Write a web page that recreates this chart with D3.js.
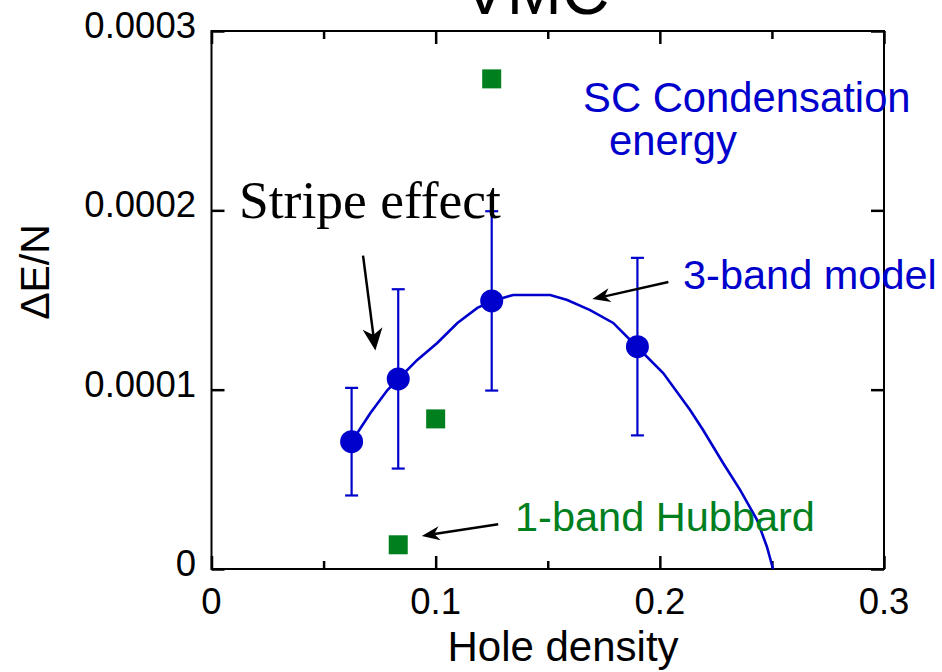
<!DOCTYPE html>
<html><head><meta charset="utf-8">
<script src="https://cdn.jsdelivr.net/npm/d3@7"></script>
<style>html,body{margin:0;padding:0;background:#fff;}svg{display:block;}</style>
</head><body>
<svg id="c" width="942" height="672"></svg>
<script>
// ---- data ----
const xTicks = [0, 0.1, 0.2, 0.3];
const xMinorTicks = [0.05, 0.15, 0.25];
const yTicks = [0, 0.0001, 0.0002, 0.0003];
const yTickLabels = ["0", "0.0001", "0.0002", "0.0003"];
const xTickLabels = ["0", "0.1", "0.2", "0.3"];

// 3-band model VMC points (hole density, ΔE/N, error)
const bandX = [0.0625, 0.0833, 0.125, 0.19];
const bandY = [0.0000710, 0.0001060, 0.0001495, 0.0001240];
const bandErr = [0.0000300, 0.0000500, 0.0000500, 0.0000495];

// 1-band Hubbard points
const hubX = [0.0833, 0.1, 0.125];
const hubY = [0.0000135, 0.0000837, 0.0002733];

// fitted curve
const curveX = [0.0624,0.0709,0.0785,0.0834,0.0918,0.1007,0.1097,0.1186,0.1253,0.1346,0.1511,0.1587,0.1689,0.1792,0.1899,0.2015,0.2135,0.2193,0.2282,0.2358,0.2434,0.2478,0.2505];
const curveY = [0.708,0.870,0.998,1.060,1.166,1.260,1.372,1.456,1.495,1.528,1.528,1.500,1.444,1.372,1.238,1.093,0.887,0.775,0.591,0.441,0.273,0.123,0.000].map(v => v * 1e-4);

// ---- layout ----
const svg = d3.select("#c");
const x = d3.scaleLinear().domain([0, 0.3]).range([211.5, 884]);
const y = d3.scaleLinear().domain([0, 0.0003]).range([569, 31]);
const BLUE = "#0000cc", GREEN = "#007f1f";
const SANS = "'Liberation Sans', Arial, Helvetica, sans-serif";

// title (cut at top, as in the reference)
svg.append("text").attr("x", 536).attr("y", 14).attr("text-anchor", "middle")
  .attr("font-family", SANS).attr("font-size", 66).attr("fill", "#000").text("VMC");

// frame
svg.append("rect").attr("x", x(0)).attr("y", y(0.0003)).attr("width", x(0.3) - x(0)).attr("height", y(0) - y(0.0003))
  .attr("fill", "none").attr("stroke", "#000").attr("stroke-width", 2);

// axes with inward ticks
const axB = d3.axisBottom(x).tickValues(xTicks).tickSize(-13).tickFormat("");
const axT = d3.axisTop(x).tickValues(xTicks).tickSize(-13).tickFormat("");
const axBm = d3.axisBottom(x).tickValues(xMinorTicks).tickSize(-8).tickFormat("");
const axTm = d3.axisTop(x).tickValues(xMinorTicks).tickSize(-8).tickFormat("");
const axL = d3.axisLeft(y).tickValues(yTicks).tickSize(-13).tickFormat("");
const axR = d3.axisRight(y).tickValues(yTicks).tickSize(-13).tickFormat("");
function styleAx(g){ g.select(".domain").remove(); g.selectAll("line").attr("stroke","#000").attr("stroke-width",2.5); }
svg.append("g").attr("transform", `translate(0,${y(0)})`).call(axB).call(styleAx);
svg.append("g").attr("transform", `translate(0,${y(0.0003)})`).call(axT).call(styleAx);
svg.append("g").attr("transform", `translate(0,${y(0)})`).call(axBm).call(styleAx);
svg.append("g").attr("transform", `translate(0,${y(0.0003)})`).call(axTm).call(styleAx);
svg.append("g").attr("transform", `translate(${x(0)},0)`).call(axL).call(styleAx);
svg.append("g").attr("transform", `translate(${x(0.3)},0)`).call(axR).call(styleAx);

// tick labels
svg.append("g").selectAll("text").data(xTicks).join("text")
  .attr("x", d => x(d)).attr("y", 614).attr("text-anchor", "middle")
  .attr("font-family", SANS).attr("font-size", 36.5).text((d, i) => xTickLabels[i]);
svg.append("g").selectAll("text").data(yTicks).join("text")
  .attr("x", 196).attr("y", d => y(d) + 7).attr("text-anchor", "end")
  .attr("font-family", SANS).attr("font-size", 36.5).text((d, i) => yTickLabels[i]);

// axis labels
svg.append("text").attr("x", 563).attr("y", 661).attr("text-anchor", "middle")
  .attr("font-family", SANS).attr("font-size", 42).text("Hole density");
svg.append("text").attr("transform", "translate(49,272) rotate(-90)").attr("text-anchor", "middle")
  .attr("font-family", SANS).attr("font-size", 41).text("ΔE/N");

// curve
const line = d3.line().x(d => x(d[0])).y(d => y(d[1]));
svg.append("path").datum(d3.zip(curveX, curveY)).attr("d", line)
  .attr("fill", "none").attr("stroke", BLUE).attr("stroke-width", 2.6);

// error bars
const eb = svg.append("g").attr("stroke", BLUE).attr("stroke-width", 2.2);
bandX.forEach((xv, i) => {
  eb.append("line").attr("x1", x(xv)).attr("x2", x(xv)).attr("y1", y(bandY[i] - bandErr[i])).attr("y2", y(bandY[i] + bandErr[i]));
  [bandY[i] - bandErr[i], bandY[i] + bandErr[i]].forEach(v =>
    eb.append("line").attr("x1", x(xv) - 6.5).attr("x2", x(xv) + 6.5).attr("y1", y(v)).attr("y2", y(v)));
});
// points
svg.append("g").selectAll("circle").data(d3.zip(bandX, bandY)).join("circle")
  .attr("cx", d => x(d[0])).attr("cy", d => y(d[1])).attr("r", 11.5).attr("fill", BLUE);
svg.append("g").selectAll("rect").data(d3.zip(hubX, hubY)).join("rect")
  .attr("x", d => x(d[0]) - 9.5).attr("y", d => y(d[1]) - 9.5).attr("width", 19).attr("height", 19).attr("fill", GREEN);

// annotations
svg.append("text").attr("x", 583).attr("y", 112).attr("font-family", SANS).attr("font-size", 41.8).attr("fill", BLUE).text("SC Condensation");
svg.append("text").attr("x", 609).attr("y", 155).attr("font-family", SANS).attr("font-size", 41.8).attr("fill", BLUE).text("energy");
svg.append("text").attr("x", 683).attr("y", 289).attr("font-family", SANS).attr("font-size", 41.5).attr("fill", BLUE).text("3-band model");
svg.append("text").attr("x", 515).attr("y", 531).attr("font-family", SANS).attr("font-size", 41.5).attr("fill", GREEN).text("1-band Hubbard");
svg.append("text").attr("x", 239).attr("y", 218).attr("font-family", "'Liberation Serif', 'Times New Roman', serif").attr("font-size", 53.5).attr("fill", "#000").text("Stripe effect");

// arrows (data coordinates: start -> tip)
const arrows = [
  {x1: 0.0676, y1: 0.0001747, x2: 0.0731, y2: 0.0001219, head: 22, w: 10},
  {x1: 0.2038, y1: 0.0001600, x2: 0.1699, y2: 0.0001505, head: 18, w: 7},
  {x1: 0.1279, y1: 0.0000250, x2: 0.0938, y2: 0.0000184, head: 18, w: 7}
];
arrows.forEach(a => {
  const X1 = x(a.x1), Y1 = y(a.y1), X2 = x(a.x2), Y2 = y(a.y2);
  const dx = X2 - X1, dy = Y2 - Y1, len = Math.hypot(dx, dy), ux = dx / len, uy = dy / len;
  const bx = X2 - ux * a.head, by = Y2 - uy * a.head;
  const nx = -uy, ny = ux;
  const notchX = X2 - ux * a.head * 0.7, notchY = Y2 - uy * a.head * 0.7;
  svg.append("line").attr("x1", X1).attr("y1", Y1).attr("x2", notchX).attr("y2", notchY)
    .attr("stroke", "#000").attr("stroke-width", 2.5);
  svg.append("path").attr("d", `M${X2},${Y2}L${bx + nx * a.w},${by + ny * a.w}L${notchX},${notchY}L${bx - nx * a.w},${by - ny * a.w}Z`)
    .attr("fill", "#000");
});
</script>
</body></html>
